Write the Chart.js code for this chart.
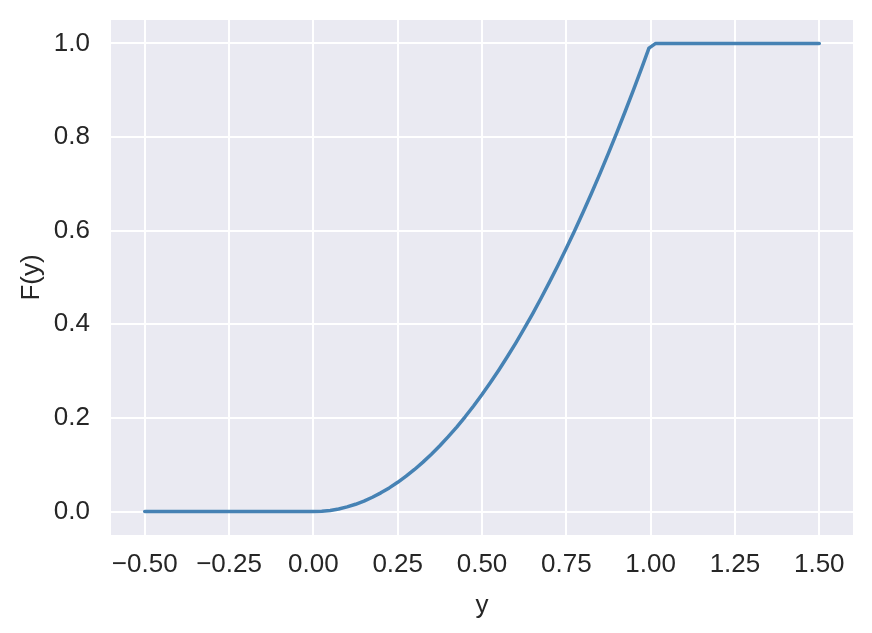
<!DOCTYPE html>
<html>
<head>
<meta charset="utf-8">
<script src="https://cdn.jsdelivr.net/npm/chart.js@4"></script>
<style>
  html, body { margin: 0; padding: 0; background: #fff; }
  #wrap { width: 872px; height: 633px; }
</style>
</head>
<body>
<div id="wrap"><canvas id="cdf-chart" width="872" height="633"></canvas></div>
<script>
// values
const yValues = [-0.50, -0.25, 0.00, 0.025, 0.05, 0.075, 0.10, 0.125, 0.15, 0.175, 0.20, 0.225, 0.25,
                 0.275, 0.30, 0.325, 0.35, 0.375, 0.40, 0.425, 0.45, 0.475, 0.50, 0.525, 0.55, 0.575,
                 0.60, 0.625, 0.65, 0.675, 0.70, 0.725, 0.75, 0.775, 0.80, 0.825, 0.85, 0.875, 0.90,
                 0.925, 0.95, 0.975, 0.995, 1.015, 1.25, 1.50];
const cdfValues = [0.00, 0.00, 0.00, 0.0006, 0.0025, 0.0056, 0.01, 0.0156, 0.0225, 0.0306, 0.04, 0.0506, 0.0625,
                   0.0756, 0.09, 0.1056, 0.1225, 0.1406, 0.16, 0.1806, 0.2025, 0.2256, 0.25, 0.2756, 0.3025, 0.3306,
                   0.36, 0.3906, 0.4225, 0.4556, 0.49, 0.5256, 0.5625, 0.6006, 0.64, 0.6806, 0.7225, 0.7656, 0.81,
                   0.8556, 0.9025, 0.9506, 0.99, 1.00, 1.00, 1.00];
const xTicks = [-0.50, -0.25, 0.00, 0.25, 0.50, 0.75, 1.00, 1.25, 1.50];
const yTicks = [0.0, 0.2, 0.4, 0.6, 0.8, 1.0];

const textColor = '#262626';
const tickFont = { family: 'Arial, "Liberation Sans", sans-serif', size: 26 };
const titleFont = { family: 'Arial, "Liberation Sans", sans-serif', size: 26 };

// seaborn darkgrid background
const plotBackground = {
    id: 'plotBackground',
    beforeDraw(chart) {
        const { ctx, chartArea } = chart;
        ctx.save();
        ctx.fillStyle = '#EAEAF2';
        ctx.fillRect(chartArea.left, chartArea.top, chartArea.right - chartArea.left, chartArea.bottom - chartArea.top);
        ctx.restore();
    }
};

const ctx = document.getElementById('cdf-chart').getContext('2d');
new Chart(ctx, {
    type: 'scatter',
    data: {
        datasets: [{
            label: 'F(y)',
            data: yValues.map((v, i) => ({ x: v, y: cdfValues[i] })),
            showLine: true,
            borderColor: '#4682B4',
            borderWidth: 3.5,
            pointRadius: 0,
            tension: 0,
            borderJoinStyle: 'round',
            borderCapStyle: 'round',
            fill: false
        }]
    },
    options: {
        responsive: false,
        animation: false,
        layout: { padding: { top: 20, right: 19, left: 0, bottom: 0 } },
        plugins: {
            legend: { display: false },
            tooltip: { enabled: false }
        },
        scales: {
            x: {
                type: 'linear',
                min: -0.6,
                max: 1.6,
                afterBuildTicks: scale => { scale.ticks = xTicks.map(v => ({ value: v })); },
                afterFit: scale => {
                    scale.height = 633 - 535;
                    scale.paddingLeft = 0;
                    scale.paddingRight = 0;
                },
                grid: { color: '#ffffff', lineWidth: 2, drawTicks: false },
                border: { display: false },
                ticks: {
                    color: textColor,
                    font: tickFont,
                    padding: 14,
                    maxRotation: 0,
                    autoSkip: false,
                    callback: v => (v < 0 ? '\u2212' : '') + Math.abs(v).toFixed(2)
                },
                title: { display: true, text: 'y', color: textColor, font: titleFont, padding: { top: 0, bottom: 12 } }
            },
            y: {
                min: -0.05,
                max: 1.05,
                afterBuildTicks: scale => { scale.ticks = yTicks.map(v => ({ value: v })); },
                afterFit: scale => {
                    scale.width = 111;
                    scale.paddingTop = 0;
                    scale.paddingBottom = 0;
                },
                grid: { color: '#ffffff', lineWidth: 2, drawTicks: false },
                border: { display: false },
                ticks: {
                    color: textColor,
                    font: tickFont,
                    padding: 21,
                    autoSkip: false,
                    callback: v => v.toFixed(1)
                },
                title: { display: true, text: 'F(y)', color: textColor, font: titleFont, padding: { top: 16, bottom: 0 } }
            }
        }
    },
    plugins: [plotBackground]
});
</script>
</body>
</html>
